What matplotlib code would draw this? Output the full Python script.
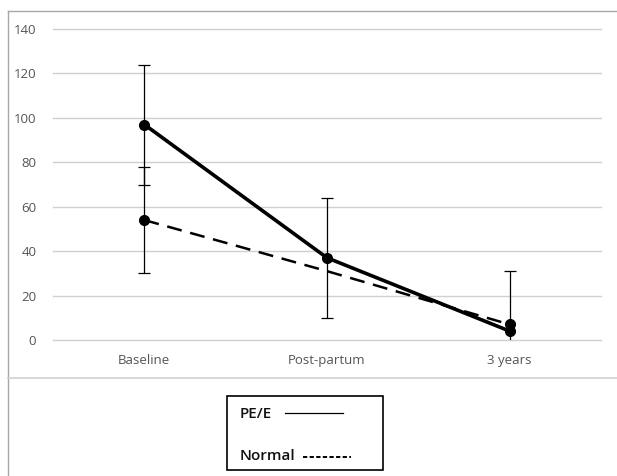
import numpy as np
import matplotlib.pyplot as plt
from matplotlib.lines import Line2D
from matplotlib.patches import Rectangle

categories = ['Baseline', 'Post-partum', '3 years']
pe_values = [97, 37, 4]
pe_err = [27, 27, 27]
normal_values = [54, 31, 7]
normal_err = [24, 0, 0]
yticks = [0, 20, 40, 60, 80, 100, 120, 140]

plt.rcParams['font.family'] = ['Open Sans', 'DejaVu Sans']

W, H = 617, 476
fig = plt.figure(figsize=(W/100, H/100), dpi=100)
ax = fig.add_axes([53/W, 1-340/H, 548/W, 311/H])

x = np.arange(len(categories))

# error bars first, so the lines sit on top
ax.errorbar(x, pe_values, yerr=pe_err, fmt='none', ecolor='black',
            elinewidth=0.9, capsize=4, capthick=0.9, zorder=3)
ax.errorbar(x[:1], normal_values[:1], yerr=normal_err[:1], fmt='none',
            ecolor='black', elinewidth=0.9, capsize=4, capthick=0.9, zorder=3)

ax.plot(x, normal_values, color='black', lw=1.8, ls=(0, (6, 3.5)),
        marker='o', markersize=7, markevery=[0, 2], zorder=4)
ax.plot(x, pe_values, color='black', lw=2.6, marker='o', markersize=7, zorder=5)

ax.set_xlim(-0.5, 2.5)
ax.set_ylim(0, 140)
ax.set_yticks(yticks)
ax.set_xticks(x)
ax.set_xticklabels(categories)
for yv in yticks:
    ax.axhline(yv, color='#d0d0d0', lw=1, zorder=0, clip_on=False)
for s in ax.spines.values():
    s.set_visible(False)
ax.tick_params(length=0, labelsize=9.5, labelcolor='#555555', pad=12)
ax.tick_params(axis='x', pad=10)

# outer frame of the chart area
fc = '#a8a8a8'
fig.add_artist(Line2D([8/W, 8/W], [0, 1-11/H], color=fc, lw=1))
fig.add_artist(Line2D([8/W, 1], [1-11/H, 1-11/H], color=fc, lw=1))
fig.add_artist(Line2D([8/W, 1], [1-378/H, 1-378/H], color='#d0d0d0', lw=1.2))

# legend drawn by hand: label first, then the line sample
fig.add_artist(Rectangle((227/W, 1-470/H), 156/W, 74/H, transform=fig.transFigure,
                         fill=False, edgecolor='black', lw=1.2))
fig.text(240/W, 1-414/H, 'PE/E', fontsize=11, fontweight='semibold',
         color='#111111', va='center')
fig.add_artist(Line2D([285/W, 343/W], [1-413/H, 1-413/H], color='black', lw=0.9))
fig.text(240/W, 1-456/H, 'Normal', fontsize=11, fontweight='semibold',
         color='#111111', va='center')
fig.add_artist(Line2D([303/W, 351/W], [1-457/H, 1-457/H], color='black', lw=1.4,
                      ls=(0, (2.2, 1.2))))

fig.savefig('out.png', dpi=100)
